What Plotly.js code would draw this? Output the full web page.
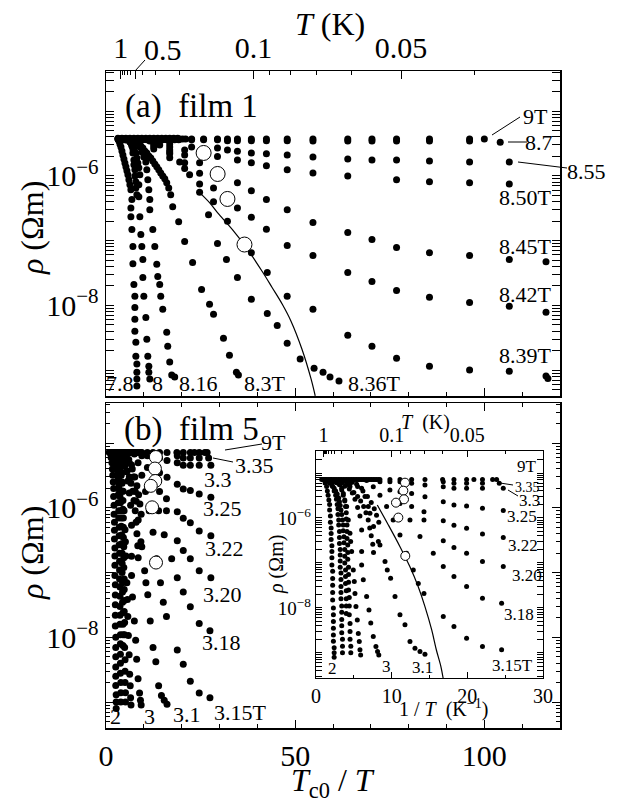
<!DOCTYPE html>
<html><head><meta charset="utf-8">
<script src="https://cdn.plot.ly/plotly-3.0.1.min.js"></script>
<style>html,body{margin:0;padding:0;background:#fff;}#chart{width:620px;height:798px;}</style>
</head><body><div id="chart"></div>
<script>
// ---------- Film 1 (panel a): x = Tc0/T, y = rho (Ohm m) ----------
const TC0_1 = 3.9; // K
const f1_9T_x = [3.16,3.68,4.21,4.74,5.26,5.79,6.32,6.84,7.37,7.89,8.42,8.95,9.47,10.0,10.53,11.05,11.58,12.1,12.63,13.16,13.68,14.2,14.74,15.26,15.79,16.32,16.84,17.37,17.89,18.42,18.95,19.47,20.26,21.05,22.63,25.8,29.47,32.1,34.74,38.42,42.4,47.9,54.7,63.9,70.3,76.8,85.5,96.1,100];
const f1_9T_y = [3.8e-6,3.7e-6,3.8e-6,3.7e-6,3.8e-6,3.7e-6,3.8e-6,3.7e-6,3.8e-6,3.7e-6,3.8e-6,3.7e-6,3.8e-6,3.7e-6,3.8e-6,3.7e-6,3.8e-6,3.7e-6,3.8e-6,3.7e-6,3.8e-6,3.7e-6,3.8e-6,3.7e-6,3.8e-6,3.7e-6,3.8e-6,3.7e-6,3.8e-6,3.7e-6,3.8e-6,3.7e-6,3.7e-6,3.7e-6,3.7e-6,3.7e-6,3.7e-6,3.7e-6,3.7e-6,3.7e-6,3.7e-6,3.7e-6,3.7e-6,3.7e-6,3.7e-6,3.7e-6,3.7e-6,3.7e-6,3.7e-6];
const f1_87_x = [3.42,4.47,5.53,6.58,7.63,8.68,9.74,10.79,11.84,12.9,13.95,15.0,16.05,17.1,18.16,19.21,22.63,25.8,29.47,32.1,34.74,38.42,42.4,47.9,54.7,63.9,70.3,76.8,85.5,96.1,104.2];
const f1_87_y = [3.6e-6,3.6e-6,3.6e-6,3.6e-6,3.6e-6,3.6e-6,3.6e-6,3.6e-6,3.6e-6,3.6e-6,3.6e-6,3.6e-6,3.6e-6,3.6e-6,3.6e-6,3.6e-6,3.6e-6,3.6e-6,3.6e-6,3.5e-6,3.5e-6,3.5e-6,3.5e-6,3.5e-6,3.45e-6,3.45e-6,3.45e-6,3.45e-6,3.45e-6,3.45e-6,3.3e-6];
const f1_855_x = [4.21,8.42,12.63,16.84,22.63,29.47,32.1,34.74,38.42,42.4,47.9,54.7,63.9,70.3,76.8,85.5,96.1,106.6];
const f1_855_y = [3.7e-6,3.7e-6,3.45e-6,3.1e-6,2.8e-6,2.7e-6,2.5e-6,2.4e-6,2.26e-6,2.2e-6,2.1e-6,1.96e-6,1.82e-6,1.76e-6,1.76e-6,1.7e-6,1.64e-6,1.64e-6];
const f1_850_x = [4.21,8.42,12.63,16.84,20.79,25.8,29.47,34.74,38.42,42.4,47.9,54.7,63.9,76.8,85.5,96.1,106.6];
const f1_850_y = [3.7e-6,3.6e-6,3.2e-6,2.8e-6,2.5e-6,2.26e-6,2.0e-6,1.76e-6,1.6e-6,1.43e-6,1.24e-6,1.11e-6,1.0e-6,8.7e-7,8.1e-7,7.8e-7,7.5e-7];
const f1_845_x = [4.21,8.42,12.63,16.84,20.79,24.74,29.47,34.74,38.42,42.4,47.9,54.7,63.9,70.3,76.8,85.5,96.1,106.6,116.3];
const f1_845_y = [3.7e-6,3.45e-6,3.0e-6,2.5e-6,2.1e-6,1.6e-6,1.1e-6,7.8e-7,5.9e-7,4.3e-7,3.0e-7,1.9e-7,1.33e-7,1.04e-7,7.8e-8,6.5e-8,5.9e-8,5.1e-8,4.7e-8];
const f1_842_x = [4.21,8.42,12.63,16.84,20.79,24.74,28.42,32.1,34.74,38.42,42.4,47.9,54.7,63.9,70.3,76.8,85.5,96.1,106.6,116.3];
const f1_842_y = [3.7e-6,3.3e-6,2.8e-6,2.2e-6,1.6e-6,1.1e-6,6.5e-7,4.4e-7,3.2e-7,2.3e-7,1.5e-7,8.4e-8,5.9e-8,3.22e-8,2.34e-8,1.7e-8,1.33e-8,1.11e-8,9.7e-9,7.8e-9];
const f1_839_x = [4.21,8.42,12.63,16.84,20.79,24.74,28.42,32.1,36.6,38.42,42.63,47.89,54.7,63.9,70.3,76.8,85.5,96.1,106.6,116.3,116.8];
const f1_839_y = [3.7e-6,3.2e-6,2.6e-6,1.9e-6,1.3e-6,7.5e-7,4.0e-7,2.0e-7,8.7e-8,6.5e-8,3.22e-8,1.38e-8,8.7e-9,3.45e-9,2.34e-9,1.53e-9,1.15e-9,1.0e-9,9.6e-10,8.1e-10,7.4e-10];
const f1_836_x = [8.95,11.58,14.2,16.84,19.47,22.1,24.74,27.1,29.47,31.84,34.74,38.42,42.63,45.26,47.89,51.32,55.0,57.37,59.21,61.58];
const f1_836_y = [3.71e-6,3.45e-6,3.0e-6,2.34e-6,1.64e-6,1.04e-6,5.6e-7,2.5e-7,9.0e-8,5.1e-8,2.7e-8,1.24e-8,7.5e-9,4.9e-9,2.6e-9,1.48e-9,1.07e-9,9.3e-10,7.8e-10,6.8e-10];
const f1_83_x = [3.16,4.74,6.32,7.37,8.16,8.68,9.21,9.74,10.26,10.79,11.32,11.84,12.37,12.9,13.42,13.95,14.47,15.0,15.53,16.05,16.58,17.1,17.63,19.21,20.79,22.89,25.26,27.37,28.42,31.05,32.63,34.47,35.0];
const f1_83_y = [3.71e-6,3.71e-6,3.58e-6,3.45e-6,3.33e-6,3.1e-6,2.9e-6,2.7e-6,2.43e-6,2.26e-6,2.03e-6,1.89e-6,1.7e-6,1.53e-6,1.38e-6,1.24e-6,1.11e-6,1.0e-6,9.0e-7,7.8e-7,6.5e-7,5.1e-7,3.33e-7,1.96e-7,9.7e-8,4.6e-8,1.76e-8,1.04e-8,7.3e-9,3.1e-9,1.7e-9,9.3e-10,8.4e-10];
const f1_816_x = [5.26,6.84,7.89,8.42,8.95,9.47,10.0,10.53,10.79,11.05,11.32,11.58,11.58,12.37,12.9,13.42,13.68,14.2,14.47,15.0,16.05,16.32,16.84,17.37,18.16];
const f1_816_y = [3.71e-6,3.58e-6,3.45e-6,3.22e-6,2.79e-6,2.34e-6,1.96e-6,1.64e-6,1.24e-6,8.7e-7,6.1e-7,4.3e-7,3.0e-7,1.48e-7,8.1e-8,4.3e-8,2.79e-8,2.1e-8,1.38e-8,8.7e-9,3.85e-9,2.34e-9,1.33e-9,8.4e-10,7.8e-10];
const f1_8_x = [4.21,5.26,6.32,6.84,7.37,7.89,8.16,8.42,8.68,8.95,8.68,8.68,8.95,9.21,9.47,9.74,9.74,10.0,10.53,10.79,11.05,11.32,11.32,11.58];
const f1_8_y = [3.71e-6,3.58e-6,3.33e-6,3.0e-6,2.62e-6,2.26e-6,1.89e-6,1.58e-6,1.33e-6,1.04e-6,7.3e-7,4.75e-7,2.34e-7,1.24e-7,8.1e-8,5.1e-8,2.7e-8,1.38e-8,6.5e-9,3.0e-9,1.64e-9,1.15e-9,9.3e-10,7.3e-10];
const f1_79_x = [6.32,6.58,6.84,7.11,7.11,7.37,7.37,7.63,7.63,7.89,7.89,8.16];
const f1_79_y = [3.58e-6,3.22e-6,2.9e-6,2.6e-6,2.26e-6,1.76e-6,1.48e-6,1.24e-6,1.0e-6,8.1e-7,6.5e-7,5.1e-7];
const f1_78_x = [3.16,3.42,3.68,3.95,4.21,4.47,4.74,5.0,5.26,5.53,5.79,6.05,6.32,6.58,6.84,6.58,6.58,6.84,7.11,7.11,7.37,7.63,7.63,7.63,7.63,7.89,7.89,8.16,8.16,8.16,8.16];
const f1_78_y = [3.71e-6,3.45e-6,3.1e-6,2.79e-6,2.43e-6,2.1e-6,1.82e-6,1.58e-6,1.38e-6,1.2e-6,1.04e-6,8.7e-7,7.3e-7,6.1e-7,4.3e-7,3.2e-7,2.34e-7,1.48e-7,8.1e-8,4.4e-8,2.1e-8,1.38e-8,9.3e-9,6.1e-9,3.98e-9,2.7e-9,1.64e-9,1.24e-9,9.3e-10,7.3e-10,5.7e-10];
const f1_circ_x = [25.8,29.5,32.1,36.6];
const f1_circ_y = [2.26e-6,1.07e-6,4.4e-7,8.7e-8];
const f1_fit_x = [24.47,27.37,29.47,33.42,37.1,41.3,43.9,46.6,48.9,51.8,54.2,55.3];
const f1_fit_y = [5.7e-7,3.85e-7,2.7e-7,1.48e-7,7.8e-8,3.33e-8,1.89e-8,1.04e-8,5.7e-9,2.1e-9,7.3e-10,4.0e-10];

// ---------- Film 5 (panel b + inset): x = 1/T (K^-1) ----------
const TC0_5 = 1.12; // K, main panel uses Tc0/T
const f5_9T_x = [0.75,0.97,1.19,1.41,1.63,1.85,2.07,2.29,2.51,2.73,2.95,3.17,3.39,3.61,3.83,4.05,4.27,4.49,4.71,4.93,5.15,5.37,5.59,5.81,6.03,6.25,6.47,6.69,6.91,7.13,7.35,7.57,7.79,8.01,8.24,8.45,9.77,11.1,12.64,14.4,16.73,18.23,19.9,20.87,22.0,23.34,23.87];
const f5_9T_y = [7.2e-6,7.2e-6,7.2e-6,7.2e-6,7.2e-6,7.2e-6,7.2e-6,7.2e-6,7.2e-6,7.2e-6,7.2e-6,7.2e-6,7.2e-6,7.2e-6,7.2e-6,7.2e-6,7.2e-6,7.2e-6,7.2e-6,7.2e-6,7.2e-6,7.2e-6,7.2e-6,7.2e-6,7.2e-6,7.2e-6,7.2e-6,7.2e-6,7.2e-6,7.2e-6,7.2e-6,7.2e-6,7.2e-6,7.2e-6,7.2e-6,7.2e-6,7.2e-6,7.2e-6,7.2e-6,7.2e-6,7.2e-6,7.2e-6,7.2e-6,7.2e-6,7.2e-6,7.2e-6,7.2e-6];
const f5_335_x = [16.82,18.23,19.9,22.0,24.22];
const f5_335_y = [6.4e-6,5.9e-6,5.9e-6,5.9e-6,5.9e-6];
const f5_33_x = [14.4,16.82,18.23,19.9,22.0,24.75];
const f5_33_y = [5.4e-6,4.97e-6,4.56e-6,4.56e-6,4.56e-6,4.56e-6];
const f5_325_x = [12.64,14.4,16.82,18.23,19.9,22.0,24.75];
const f5_325_y = [5.9e-6,2.98e-6,2.31e-6,1.95e-6,1.85e-6,1.64e-6,1.46e-6];
const f5_322_x = [11.1,12.64,14.27,16.82,18.23,19.9,22.0,24.75];
const f5_322_y = [6.4e-6,3.5e-6,1.38e-6,8.7e-7,6.9e-7,5.9e-7,4.4e-7,3.7e-7];
const f5_320_x = [9.77,11.1,12.64,14.27,16.82,18.23,19.9,22.0,24.75];
const f5_320_y = [6.4e-6,3.85e-6,1.79e-6,9.0e-7,3.1e-7,2.2e-7,1.64e-7,1.07e-7,8.3e-8];
const f5_318_x = [8.45,9.77,11.1,12.42,13.74,15.5,16.82,18.23,19.9,22.0,24.53];
const f5_318_y = [6.4e-6,4.2e-6,2.1e-6,9.0e-7,3.85e-7,1.64e-7,8.3e-8,5.0e-8,2.98e-8,1.64e-8,1.27e-8];
const f5_315_x = [6.69,7.57,8.45,9.33,10.2,11.1,11.98,12.86,13.52,14.27,16.82,18.23,19.9,22.0,24.53];
const f5_315_y = [6.8e-6,4.97e-6,3.2e-6,1.79e-6,9.0e-7,4.2e-7,1.64e-7,7.0e-8,3.5e-8,2.1e-8,6.4e-9,3.85e-9,2.1e-9,1.38e-9,1.17e-9];
const f5_31_x = [3.0,4.0,4.8,5.37,6.03,6.47,6.91,7.13,7.6,8.24,8.45,9.12,9.42,9.86,10.44,11.1,11.76,12.42,13.08,13.74,14.4];
const f5_31_y = [7.0e-6,6.6e-6,6.2e-6,5.6e-6,4.6e-6,3.0e-6,1.79e-6,1.27e-6,6.5e-7,3.0e-7,2.5e-7,1.07e-7,7.0e-8,4.56e-8,1.79e-8,7.0e-9,4.2e-9,1.79e-9,1.27e-9,1.07e-9,9.3e-10];
const f5_305_x = [2.5,3.5,4.5,5.5,6.2,6.8,7.3,7.7,8.0,8.3];
const f5_305_y = [7.0e-6,6.5e-6,5.9e-6,5.0e-6,4.0e-6,3.0e-6,2.2e-6,1.6e-6,1.15e-6,8.0e-7];
const f5_3_x = [2.0,2.7,3.4,4.0,4.49,4.8,5.15,5.5,5.81,6.03,6.03,6.03,6.25,6.69,7.0,7.24,7.57,7.92,8.13,8.3];
const f5_3_y = [7.0e-6,6.5e-6,6.0e-6,5.5e-6,5.0e-6,3.6e-6,2.6e-6,1.7e-6,1.1e-6,5.4e-7,1.79e-7,9.0e-8,4.2e-8,1.79e-8,9.0e-9,4.6e-9,2.3e-9,1.38e-9,1.07e-9,9.0e-10];
const f5_295_x = [2.0,2.6,3.2,3.8,4.4,5.0,5.5,5.9,6.3,6.6,6.9,7.1,7.3,7.5,7.6];
const f5_295_y = [7.0e-6,6.4e-6,5.8e-6,5.1e-6,4.4e-6,3.7e-6,3.0e-6,2.4e-6,1.8e-6,1.3e-6,9.0e-7,6.0e-7,4.0e-7,2.6e-7,1.7e-7];
const f5_29_x = [1.6,2.1,2.6,3.17,3.4,3.61,3.8,4.05,4.27,4.49,4.58,4.71,4.93,5.06,5.15,5.28,5.46,5.59,5.72,5.81,5.9];
const f5_29_y = [7.0e-6,6.6e-6,6.2e-6,5.9e-6,4.6e-6,3.5e-6,2.5e-6,1.8e-6,9.0e-7,4.6e-7,3.0e-7,1.8e-7,7.0e-8,3.85e-8,2.1e-8,1.07e-8,5.4e-9,2.7e-9,1.79e-9,1.17e-9,9.0e-10];
const f5_28_x = [1.3,1.8,2.3,2.8,3.1,3.4,3.6,3.8,3.9,4.0,4.0,4.1,4.1,4.1,4.2,4.2,4.2,4.3,4.3,4.3,4.3,4.4,4.4,4.4,4.5,4.5,4.5,4.6,4.6];
const f5_28_y = [7.2e-6,6.8e-6,6.4e-6,6.0e-6,5.5e-6,4.2e-6,3.2e-6,2.4e-6,1.8e-6,1.3e-6,9.5e-7,7.0e-7,5.0e-7,3.5e-7,2.5e-7,1.7e-7,1.2e-7,8.0e-8,5.5e-8,3.7e-8,2.5e-8,1.7e-8,1.1e-8,7.0e-9,4.5e-9,3.0e-9,2.0e-9,1.4e-9,1.0e-9];
const f5_26_x = [1.2,1.5,1.8,2.1,2.4,2.6,2.8,3.0,3.1,3.2,3.3,3.4,3.5,3.6,3.6,3.7,3.7,3.8,3.8,3.8,3.9,3.9,3.9,4.0,4.0,4.0,4.0];
const f5_26_y = [7.2e-6,6.6e-6,6.0e-6,5.3e-6,4.6e-6,4.0e-6,3.4e-6,2.8e-6,2.3e-6,1.9e-6,1.5e-6,1.2e-6,9.0e-7,7.0e-7,5.2e-7,3.8e-7,2.8e-7,2.0e-7,1.4e-7,1.0e-7,7.0e-8,5.0e-8,3.5e-8,2.4e-8,1.6e-8,1.1e-8,7.5e-9];
const f5_25_x = [1.8,2.0,2.2,2.4,2.6,2.7,2.8,2.9,2.9,3.0,3.0,3.1,3.1,3.1,3.2,3.2,3.2,3.2,3.3,3.3,3.3,3.3,3.3,3.4,3.4,3.4,3.4,3.4,3.5,3.5,3.5];
const f5_25_y = [7.0e-6,6.0e-6,5.0e-6,4.0e-6,3.2e-6,2.6e-6,2.0e-6,1.6e-6,1.2e-6,9.0e-7,7.0e-7,5.0e-7,3.7e-7,2.7e-7,2.0e-7,1.5e-7,1.1e-7,8.0e-8,6.0e-8,4.3e-8,3.0e-8,2.2e-8,1.6e-8,1.1e-8,8.0e-9,5.5e-9,4.0e-9,2.8e-9,2.0e-9,1.4e-9,1.0e-9];
const f5_2_x = [1.0,1.2,1.4,1.5,1.6,1.7,1.8,1.8,1.9,1.9,2.0,2.0,2.0,2.1,2.1,2.1,2.1,2.2,2.2,2.2,2.2,2.2,2.3,2.3,2.3,2.3,2.3,2.3,2.4,2.4,2.4];
const f5_2_y = [7.2e-6,6.0e-6,5.0e-6,4.0e-6,3.2e-6,2.5e-6,2.0e-6,1.5e-6,1.1e-6,8.0e-7,6.0e-7,4.5e-7,3.3e-7,2.4e-7,1.8e-7,1.3e-7,9.0e-8,6.5e-8,4.5e-8,3.2e-8,2.2e-8,1.5e-8,1.0e-8,7.0e-9,5.0e-9,3.5e-9,2.5e-9,1.8e-9,1.3e-9,1.0e-9,8.0e-10];
const f5_circ_x = [11.76,11.54,11.63,10.57,10.88,11.8];
const f5_circ_y = [6.1e-6,4.05e-6,2.6e-6,2.19e-6,1.02e-6,1.43e-7];
const f5_fit_x = [8.1,9.56,11.1,12.4,13.5,14.4,15.3,15.9,16.5,16.8];
const f5_fit_y = [1.94e-6,7.0e-7,2.3e-7,8.3e-8,2.98e-8,1.07e-8,3.2e-9,1.17e-9,5.0e-10,2.75e-10];

// top-axis temperatures (K)
const T_major = [1, 0.5, 0.1, 0.05];
const T_major_text = ['1', '', '0.1', '0.05'];
const T_minor = [0.9,0.8,0.7,0.6,0.4,0.3,0.2,0.09,0.08,0.07,0.06,0.04];
const Tin_major = [1, 0.1, 0.05];
const Tin_minor = [0.9,0.8,0.7,0.6,0.5,0.4,0.3,0.2,0.09,0.08,0.07,0.06,0.04];

// ---------- helpers ----------
const FONT = "'Liberation Serif', 'Times New Roman', Times, 'DejaVu Serif', serif";
const L = 106, R = 60, T = 71, B = 70, W = 620, H = 798;
const PW = W - L - R, PH = H - T - B;
const P = px => (px - L) / PW;
const Q = py => (H - B - py) / PH;
const decades = [1e-9,1e-8,1e-7,1e-6,1e-5];
const decText = ['', '10<sup>−8</sup>', '', '10<sup>−6</sup>', ''];
const minorLog = [];
for (let d = -10; d <= -5; d++) for (let k = 2; k <= 9; k++) minorLog.push(k * Math.pow(10, d));

const traces = [];
function dots(x, y, xa, ya, size) {
  traces.push({x: x, y: y, xaxis: xa, yaxis: ya, type: 'scatter', mode: 'markers',
    marker: {size: size, color: '#000', line: {width: 0}}, hoverinfo: 'skip', showlegend: false});
}
function circles(x, y, xa, ya, size) {
  traces.push({x: x, y: y, xaxis: xa, yaxis: ya, type: 'scatter', mode: 'markers',
    marker: {size: size, color: '#fff', line: {width: 1, color: '#000'}}, hoverinfo: 'skip', showlegend: false});
}
function fit(x, y, xa, ya) {
  traces.push({x: x, y: y, xaxis: xa, yaxis: ya, type: 'scatter', mode: 'lines',
    line: {color: '#000', width: 1.2, shape: 'spline'}, hoverinfo: 'skip', showlegend: false});
}
function anchorTrace(xa, ya) { // invisible trace so that the top (temperature) axes get drawn
  traces.push({x: [10], y: [1e-6], xaxis: xa, yaxis: ya, type: 'scatter', mode: 'markers',
    marker: {size: 1, opacity: 0}, hoverinfo: 'skip', showlegend: false});
}
// panel a
const f1 = [[f1_9T_x,f1_9T_y],[f1_87_x,f1_87_y],[f1_855_x,f1_855_y],[f1_850_x,f1_850_y],[f1_845_x,f1_845_y],
  [f1_842_x,f1_842_y],[f1_839_x,f1_839_y],[f1_836_x,f1_836_y],[f1_83_x,f1_83_y],[f1_816_x,f1_816_y],
  [f1_8_x,f1_8_y],[f1_79_x,f1_79_y],[f1_78_x,f1_78_y]];
f1.forEach(s => dots(s[0], s[1], 'x', 'y', 7));
fit(f1_fit_x, f1_fit_y, 'x', 'y');
circles(f1_circ_x, f1_circ_y, 'x', 'y', 15);
anchorTrace('x2', 'y');
// film 5
const f5 = [[f5_9T_x,f5_9T_y],[f5_335_x,f5_335_y],[f5_33_x,f5_33_y],[f5_325_x,f5_325_y],[f5_322_x,f5_322_y],
  [f5_320_x,f5_320_y],[f5_318_x,f5_318_y],[f5_315_x,f5_315_y],[f5_31_x,f5_31_y],[f5_305_x,f5_305_y],[f5_3_x,f5_3_y],
  [f5_295_x,f5_295_y],[f5_29_x,f5_29_y],[f5_28_x,f5_28_y],[f5_26_x,f5_26_y],[f5_25_x,f5_25_y],[f5_2_x,f5_2_y]];
const toMain = a => a.map(v => v * TC0_5);
f5.forEach(s => dots(toMain(s[0]), s[1], 'x3', 'y3', 7));
circles(toMain(f5_circ_x), f5_circ_y, 'x3', 'y3', 13);
f5.forEach(s => dots(s[0], s[1], 'x4', 'y4', 5));
fit(f5_fit_x, f5_fit_y, 'x4', 'y4');
circles(f5_circ_x, f5_circ_y, 'x4', 'y4', 9);
anchorTrace('x5', 'y4');

const axBase = {showline: true, linecolor: '#000', linewidth: 1.5, ticks: 'inside', tickcolor: '#000',
  tickwidth: 1, showgrid: false, zeroline: false, fixedrange: true, tickfont: {family: FONT, size: 30, color: '#000'}};
function ax(o) { return Object.assign({}, axBase, o); }

const layout = {
  width: W, height: H, margin: {l: L, r: R, t: T, b: B, pad: 0},
  paper_bgcolor: '#fff', plot_bgcolor: '#fff', showlegend: false,
  font: {family: FONT, color: '#000', size: 20},
  xaxis: ax({domain: [0, 1], anchor: 'y', range: [0, 120], tickmode: 'array', tickvals: [0, 50, 100],
    showticklabels: false, ticklen: 8, minor: {tickmode: 'array', tickvals: [10,20,30,40,60,70,80,90,110], ticks: 'inside', ticklen: 4, tickcolor: '#000'}}),
  xaxis2: ax({overlaying: 'x', anchor: 'y', side: 'top', range: [0, 120], tickmode: 'array',
    tickvals: T_major.map(t => TC0_1 / t), ticktext: T_major_text, ticklen: 8,
    minor: {tickmode: 'array', tickvals: T_minor.map(t => TC0_1 / t), ticks: 'inside', ticklen: 4, tickcolor: '#000'}}),
  yaxis: ax({domain: [(H - B - 396) / PH, 1], anchor: 'x', type: 'log', range: [-9.40, -4.38], tickmode: 'array',
    tickvals: decades, ticktext: decText, ticklen: 8, mirror: 'allticks',
    minor: {tickmode: 'array', tickvals: minorLog, ticks: 'inside', ticklen: 4, tickcolor: '#000'}}),
  xaxis3: ax({domain: [0, 1], anchor: 'y3', range: [0, 120], tickmode: 'array', tickvals: [0, 50, 100],
    ticklen: 8, mirror: 'allticks',
    minor: {tickmode: 'array', tickvals: [10,20,30,40,60,70,80,90,110], ticks: 'inside', ticklen: 4, tickcolor: '#000'}}),
  yaxis3: ax({domain: [0, (H - B - 403) / PH], anchor: 'x3', type: 'log', range: [-9.40, -4.38], tickmode: 'array',
    tickvals: decades, ticktext: decText, ticklen: 8, mirror: 'allticks',
    minor: {tickmode: 'array', tickvals: minorLog, ticks: 'inside', ticklen: 4, tickcolor: '#000'}}),
  xaxis4: ax({domain: [P(316), P(543)], anchor: 'y4', range: [0, 30], tickmode: 'array', tickvals: [0, 10, 20, 30],
    ticklen: 6, linewidth: 1.2, tickfont: {family: FONT, size: 20, color: '#000'},
    minor: {tickmode: 'array', tickvals: [5, 15, 25], ticks: 'inside', ticklen: 3, tickcolor: '#000'}}),
  xaxis5: ax({overlaying: 'x4', anchor: 'y4', side: 'top', range: [0, 30], tickmode: 'array',
    tickvals: Tin_major.map(t => 1 / t), ticktext: ['1', '0.1', '0.05'], ticklen: 6, linewidth: 1.2,
    tickfont: {family: FONT, size: 20, color: '#000'},
    minor: {tickmode: 'array', tickvals: Tin_minor.map(t => 1 / t), ticks: 'inside', ticklen: 3, tickcolor: '#000'}}),
  yaxis4: ax({domain: [Q(678), Q(451)], anchor: 'x4', type: 'log', range: [-9.56, -4.51], tickmode: 'array',
    tickvals: decades, ticktext: decText, ticklen: 6, linewidth: 1.2, mirror: 'allticks',
    tickfont: {family: FONT, size: 19, color: '#000'},
    minor: {tickmode: 'array', tickvals: minorLog, ticks: 'inside', ticklen: 3, tickcolor: '#000'}}),
  annotations: [],
  shapes: []
};

function txt(text, px, py, size, opts) {
  layout.annotations.push(Object.assign({text: text, xref: 'paper', yref: 'paper', x: P(px), y: Q(py),
    xanchor: 'center', yanchor: 'middle', showarrow: false, font: {family: FONT, size: size, color: '#000'}}, opts || {}));
}
function seg(x0, y0, x1, y1) {
  layout.shapes.push({type: 'line', xref: 'paper', yref: 'paper', x0: P(x0), y0: Q(y0), x1: P(x1), y1: Q(y1),
    line: {color: '#000', width: 1}});
}
// titles
txt('<i>T</i> (K)', 330, 24, 32);
txt('0.5', 163, 50, 30);
seg(135, 71, 145, 60);
txt('<i>ρ</i> (Ωm)', 32, 228, 32, {textangle: -90});
txt('<i>ρ</i> (Ωm)', 32, 553, 32, {textangle: -90});
txt('<i>T</i><sub>c0</sub> / <i>T</i>', 333, 760, 32, {yanchor: 'top'});
txt('(a)  film 1', 123, 106, 33, {xanchor: 'left'});
txt('(b)  film 5', 122, 429, 33, {xanchor: 'left'});
// panel a labels
const FL = 22;
txt('9T', 535, 116, FL); seg(492, 135, 520, 117);
txt('8.7', 539, 142, FL); seg(508, 142, 527, 142);
txt('8.55', 586, 171, FL); seg(518, 162, 567, 168);
txt('8.50T', 525, 197, FL);
txt('8.45T', 525, 246, FL);
txt('8.42T', 525, 294, FL);
txt('8.39T', 525, 355, FL);
txt('8.36T', 374, 383, FL);
txt('8.3T', 265, 383, FL);
txt('8.16', 198, 383, FL);
txt('8', 157, 383, FL);
txt('7.8', 120, 383, FL);
// panel b labels
txt('9T', 273, 442, FL); seg(225, 450, 262, 444);
txt('3.35', 254, 465, FL); seg(213, 458, 233, 462);
txt('3.3', 218, 479, FL);
txt('3.25', 222, 508, FL);
txt('3.22', 224, 548, FL);
txt('3.20', 222, 594, FL);
txt('3.18', 221, 642, FL);
txt('3.15T', 240, 712, FL);
txt('3.1', 187, 714, FL);
txt('3', 149, 716, FL);
txt('2', 115, 716, FL);
// inset
const IL = 17;
txt('<i>T</i>  (K)', 425, 422, 20);
txt('<i>ρ</i> (Ωm)', 276, 565, 20, {textangle: -90});
txt('1 / <i>T</i>  (K<sup>−1</sup>)', 443, 708, 20);
txt('9T', 527, 466, IL);
txt('3.35', 527, 487, 14); seg(500, 483, 513, 485);
txt('3.3', 529, 500, IL); seg(508, 490, 518, 496);
txt('3.25', 522, 516, IL);
txt('3.22', 523, 545, IL);
txt('3.20', 527, 575, IL);
txt('3.18', 519, 614, IL);
txt('3.15T', 512, 665, IL);
txt('3.1', 422, 667, IL);
txt('3', 386, 666, IL);
txt('2', 332, 668, IL);

Plotly.newPlot('chart', traces, layout, {displayModeBar: false, staticPlot: true});
</script></body></html>
